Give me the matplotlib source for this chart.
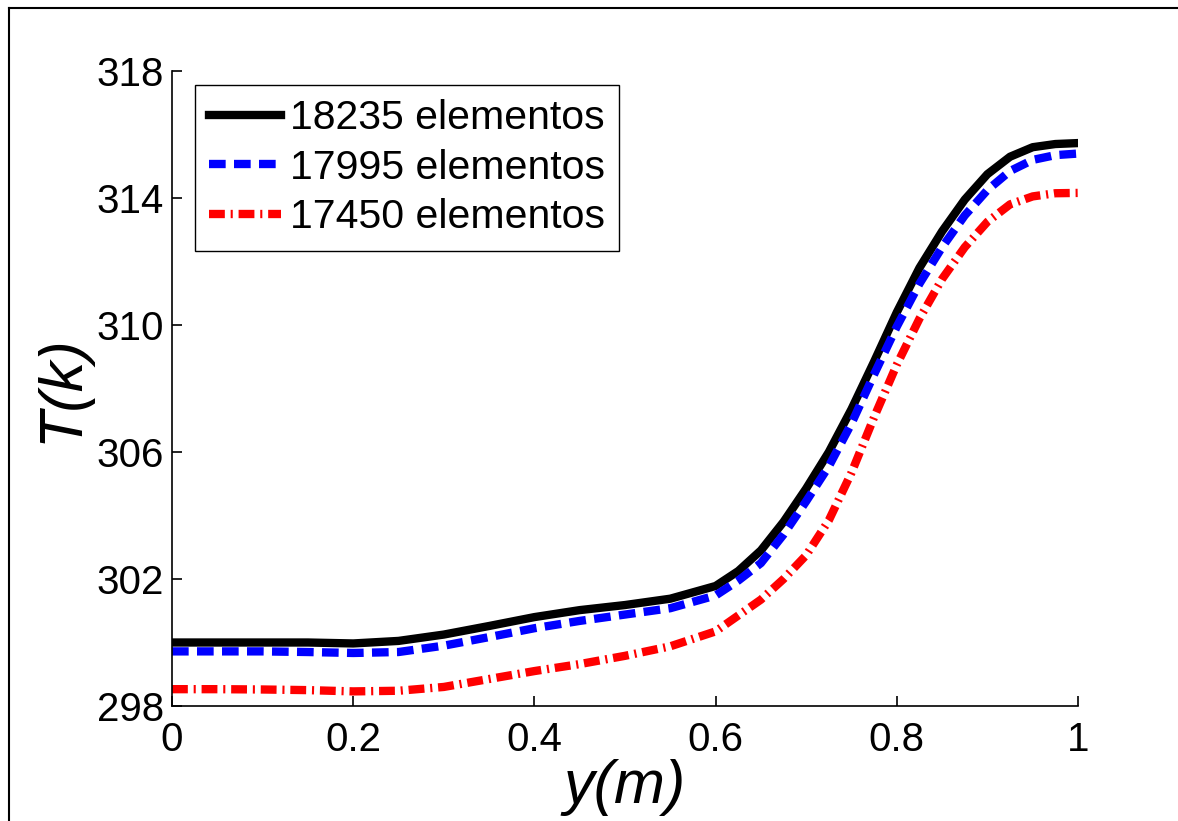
import numpy as np
import matplotlib
matplotlib.use('Agg')
import matplotlib.pyplot as plt
from matplotlib.lines import Line2D

plt.rcParams['font.family'] = ['Liberation Sans', 'DejaVu Sans']
plt.rcParams['xtick.direction'] = 'in'
plt.rcParams['ytick.direction'] = 'in'

# datos
y_pos = [0.0, 0.05, 0.1, 0.15, 0.2, 0.25, 0.3, 0.35, 0.4, 0.45, 0.5, 0.55,
         0.6, 0.625, 0.65, 0.675, 0.7, 0.725, 0.75, 0.775, 0.8, 0.825, 0.85,
         0.875, 0.9, 0.925, 0.95, 0.975, 1.0]
T_18235 = [300.00, 300.00, 300.00, 300.00, 299.97, 300.05, 300.25, 300.52,
           300.80, 301.02, 301.18, 301.38, 301.78, 302.25, 302.90, 303.80,
           304.85, 306.00, 307.35, 308.85, 310.40, 311.80, 312.95, 313.95,
           314.75, 315.30, 315.60, 315.70, 315.73]
T_17995 = [299.72, 299.72, 299.72, 299.70, 299.67, 299.70, 299.90, 300.17,
           300.45, 300.68, 300.88, 301.08, 301.48, 301.95, 302.50, 303.40,
           304.45, 305.55, 306.90, 308.45, 309.95, 311.30, 312.45, 313.45,
           314.25, 314.85, 315.20, 315.35, 315.40]
T_17450 = [298.53, 298.53, 298.52, 298.50, 298.46, 298.48, 298.60, 298.85,
           299.10, 299.32, 299.58, 299.88, 300.35, 300.85, 301.35, 302.00,
           302.75, 303.85, 305.35, 307.10, 308.75, 310.20, 311.45, 312.45,
           313.25, 313.80, 314.05, 314.15, 314.16]
labels = ['18235 elementos', '17995 elementos', '17450 elementos']

fig = plt.figure(figsize=(11.78, 8.21), dpi=100)
ax = fig.add_axes([172/1178, 1-706/821, 906/1178, 635/821])

ax.plot(y_pos, T_18235, color='black', linewidth=6, label=labels[0])
ax.plot(y_pos, T_17995, color='blue', linewidth=6, dashes=(2.0, 1.0),
        dash_capstyle='butt', label=labels[1])
ax.plot(y_pos, T_17450, color='red', linewidth=6, dashes=(1.9, 0.7, 0.25, 0.7),
        dash_capstyle='butt', label=labels[2])

ax.set_xlim(0, 1)
ax.set_ylim(298, 318)
ax.set_xticks([0, 0.2, 0.4, 0.6, 0.8, 1])
ax.set_xticklabels(['0', '0.2', '0.4', '0.6', '0.8', '1'])
ax.set_yticks([298, 302, 306, 310, 314, 318])
ax.tick_params(axis='both', labelsize=29, length=7.5, width=1.2)
ax.tick_params(axis='x', pad=11)
ax.tick_params(axis='y', pad=6)
ax.spines['top'].set_visible(False)
ax.spines['right'].set_visible(False)
ax.spines['left'].set_linewidth(1.2)
ax.spines['bottom'].set_linewidth(1.2)

ax.set_xlabel('y(m)', fontsize=44, style='italic', labelpad=0)
ax.set_ylabel('T(k)', fontsize=44, style='italic', labelpad=4)

leg = ax.legend(loc='upper left', bbox_to_anchor=(0.0254, 0.978), borderaxespad=0,
                fontsize=29.5, frameon=True, fancybox=False, framealpha=1,
                edgecolor='black', handlelength=1.75, handletextpad=0.22,
                labelspacing=0.28, borderpad=0.35)
leg.get_frame().set_linewidth(1.0)

# marco exterior
fig.add_artist(Line2D([9/1178, 1], [1-8/821, 1-8/821], color='black', linewidth=1.5,
                      transform=fig.transFigure))
fig.add_artist(Line2D([9/1178, 9/1178], [0, 1-8/821], color='black', linewidth=1.5,
                      transform=fig.transFigure))

fig.savefig('out.png', dpi=100)
